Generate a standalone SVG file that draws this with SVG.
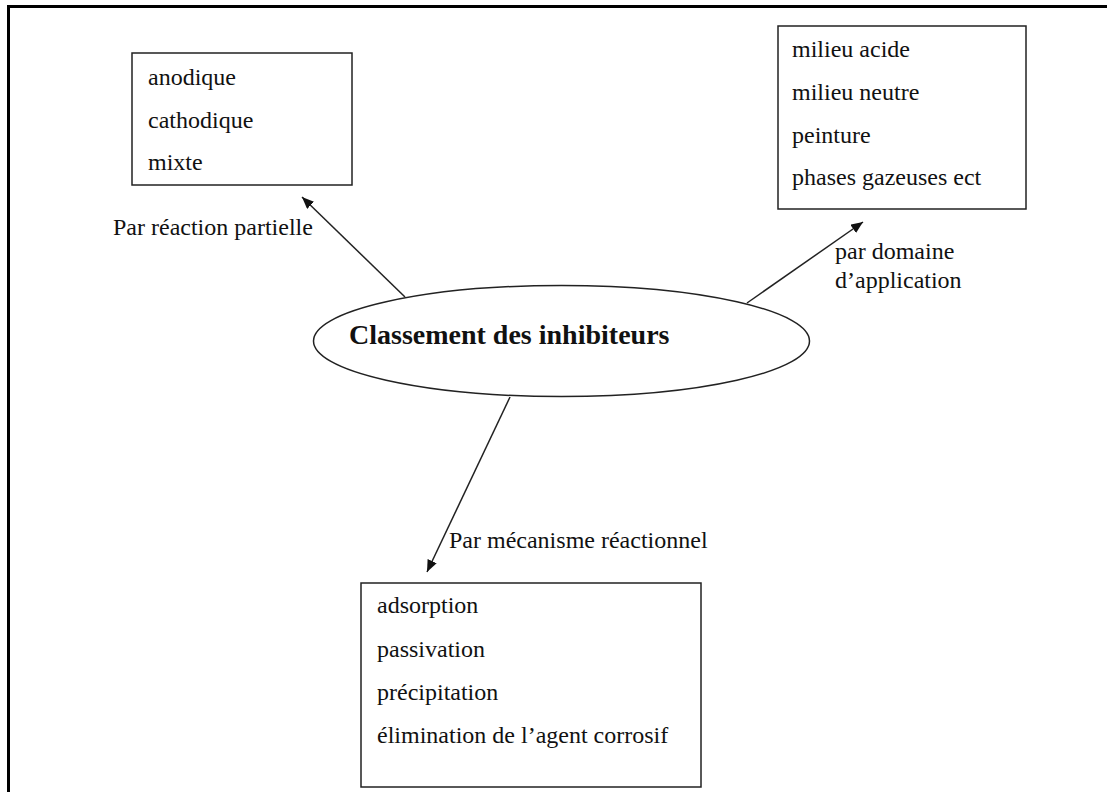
<svg xmlns="http://www.w3.org/2000/svg" width="1107" height="792" viewBox="0 0 1107 792">
<style>
  .frame { stroke: #000; stroke-width: 3; fill: none; }
  .box { fill: #fff; stroke: #222; stroke-width: 1.5; }
  .t { font-family: "Liberation Serif", "Times New Roman", serif; font-size: 24px; fill: #111; }
  .title { font-family: "Liberation Serif", "Times New Roman", serif; font-size: 28px; font-weight: bold; fill: #111; }
  .edge { stroke: #222; stroke-width: 1.5; fill: none; marker-end: url(#arrow); }
</style>
<defs>
  <marker id="arrow" viewBox="0 0 12 10" refX="12" refY="5" markerWidth="12" markerHeight="10" markerUnits="userSpaceOnUse" orient="auto">
    <path d="M0,0 L12,5 L0,10 z" fill="#111"/>
  </marker>
</defs>
<rect width="1107" height="792" fill="#fff"/>
<path class="frame" d="M8.5,792 L8.5,6.5 L1107,6.5"/>

<g id="connectors">
  <line class="edge" x1="405" y1="297" x2="302" y2="197"/>
  <line class="edge" x1="747" y1="303" x2="863" y2="222"/>
  <line class="edge" x1="510" y1="397" x2="427" y2="572"/>
  <text class="t" x="113" y="235">Par réaction partielle</text>
  <text class="t" x="835" y="259">par domaine</text>
  <text class="t" x="835" y="288">d’application</text>
  <text class="t" x="449" y="548">Par mécanisme réactionnel</text>
</g>

<g id="center">
  <ellipse cx="561.5" cy="341" rx="248" ry="55.5" fill="#fff" stroke="#222" stroke-width="1.5"/>
  <text class="title" x="349" y="344">Classement des inhibiteurs</text>
</g>

<g id="box-partielle">
  <rect class="box" x="132" y="53" width="220" height="132"/>
  <text class="t" x="148" y="85">anodique</text>
  <text class="t" x="148" y="128">cathodique</text>
  <text class="t" x="148" y="170">mixte</text>
</g>

<g id="box-domaine">
  <rect class="box" x="778" y="26" width="248" height="183"/>
  <text class="t" x="792" y="57">milieu acide</text>
  <text class="t" x="792" y="100">milieu neutre</text>
  <text class="t" x="792" y="143">peinture</text>
  <text class="t" x="792" y="185">phases gazeuses ect</text>
</g>

<g id="box-mecanisme">
  <rect class="box" x="361" y="583" width="340" height="204"/>
  <text class="t" x="377" y="613">adsorption</text>
  <text class="t" x="377" y="657">passivation</text>
  <text class="t" x="377" y="700">précipitation</text>
  <text class="t" x="377" y="743">élimination de l’agent corrosif</text>
</g>
</svg>
